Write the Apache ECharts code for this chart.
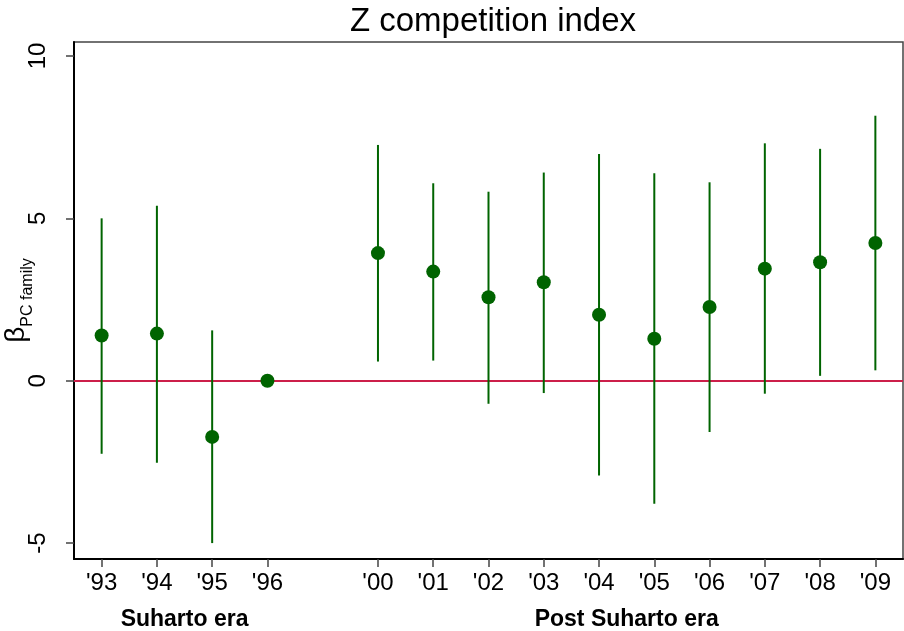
<!DOCTYPE html>
<html>
<head>
<meta charset="utf-8">
<script src="https://cdn.jsdelivr.net/npm/echarts@6/dist/echarts.min.js"></script>
<style>html,body{margin:0;padding:0;background:#fff}#c{width:904px;height:631px}</style>
</head>
<body>
<div id="c"></div>
<script>
var yearLabels = ["'93","'94","'95","'96","'00","'01","'02","'03","'04","'05","'06","'07","'08","'09"];
var positions = [1,2,3,4,6,7,8,9,10,11,12,13,14,15];
var estimates = [1.39,1.45,-1.73,0,3.93,3.36,2.57,3.03,2.03,1.29,2.27,3.45,3.65,4.24];
var lowerCI = [-2.25,-2.53,-5.0,null,0.59,0.62,-0.71,-0.38,-2.92,-3.79,-1.58,-0.40,0.15,0.32];
var upperCI = [5.0,5.39,1.55,null,7.26,6.08,5.82,6.41,6.98,6.39,6.11,7.31,7.14,8.16];
var yTicks = [-5,0,5,10];
var eraLabels = ["Suharto era","Post Suharto era"];
var eraPositions = [2.5,10.5];

var FONT = "'Liberation Sans', Arial, Helvetica, sans-serif";
var GREEN = '#006400';

var labelMap = {};
positions.forEach(function(p,i){ labelMap[p] = yearLabels[i]; });
var eraMap = {};
eraPositions.forEach(function(p,i){ eraMap[p] = eraLabels[i]; });

var ciData = [];
positions.forEach(function(p,i){
  if (lowerCI[i] !== null) ciData.push([p, lowerCI[i], upperCI[i]]);
});
var pointData = positions.map(function(p,i){ return [p, estimates[i]]; });

var chart = echarts.init(document.getElementById('c'));
chart.setOption({
  animation: false,
  backgroundColor: '#fff',
  title: {
    text: 'Z competition index',
    left: 488, top: 0, textAlign: 'center',
    textStyle: { fontFamily: FONT, fontSize: 33, fontWeight: 'normal', color: '#000' }
  },
  grid: { left: 74, right: 1, top: 42, bottom: 72, show: true, borderColor: '#444', borderWidth: 1.5,
    backgroundColor: '#fff', containLabel: false, outerBoundsMode: 'none' },
  xAxis: [{
    type: 'value', min: 0.5, max: 15.5,
    splitLine: { show: false },
    axisLine: { show: true, onZero: false, lineStyle: { color: '#000', width: 2 } },
    axisTick: { show: true, customValues: positions, length: 8, lineStyle: { color: '#444', width: 1.5 } },
    axisLabel: { customValues: positions, margin: 12, fontFamily: FONT, fontSize: 24, color: '#000',
      formatter: function(v){ return labelMap[v] || ''; } }
  },{
    type: 'value', min: 0.5, max: 15.5, position: 'bottom',
    splitLine: { show: false },
    axisLine: { show: false }, axisTick: { show: false },
    axisLabel: { customValues: eraPositions, margin: 49, fontFamily: FONT, fontSize: 23, fontWeight: 'bold', color: '#000',
      formatter: function(v){ return eraMap[v] || ''; } }
  }],
  yAxis: {
    type: 'value', min: -5.49, max: 10.43,
    splitLine: { show: false },
    axisLine: { show: true, onZero: false, lineStyle: { color: '#000', width: 2 } },
    axisTick: { show: true, customValues: yTicks, length: 8, lineStyle: { color: '#444', width: 1.5 } },
    axisLabel: { customValues: yTicks, rotate: 90, margin: 24, fontFamily: FONT, fontSize: 24, color: '#000' },
    name: '{b|β}{s|PC family}',
    nameLocation: 'middle', nameRotate: 90, nameGap: 44, nameMoveOverlap: false,
    nameTextStyle: {
      fontFamily: FONT, color: '#000',
      rich: {
        b: { fontFamily: FONT, fontSize: 28, color: '#000', lineHeight: 30, verticalAlign: 'bottom' },
        s: { fontFamily: FONT, fontSize: 16, color: '#000', lineHeight: 30, verticalAlign: 'bottom', padding: [0,0,-6,0] }
      }
    }
  },
  series: [{
    type: 'custom',
    data: ciData,
    z: 3,
    renderItem: function(params, api){
      var x = api.value(0);
      var lo = api.coord([x, api.value(1)]);
      var hi = api.coord([x, api.value(2)]);
      return { type: 'line', shape: { x1: lo[0], y1: lo[1], x2: hi[0], y2: hi[1] },
        style: { stroke: GREEN, lineWidth: 2 } };
    },
    encode: { x: 0, y: [1,2] }
  },{
    type: 'scatter',
    data: pointData,
    symbol: 'circle', symbolSize: 14,
    itemStyle: { color: GREEN, opacity: 1 },
    z: 4,
    markLine: {
      silent: true, symbol: ['none','none'], label: { show: false },
      lineStyle: { color: '#cc1f4a', width: 2, type: 'solid' },
      data: [{ yAxis: 0 }],
      z: 2
    }
  }]
});
</script>
</body>
</html>
